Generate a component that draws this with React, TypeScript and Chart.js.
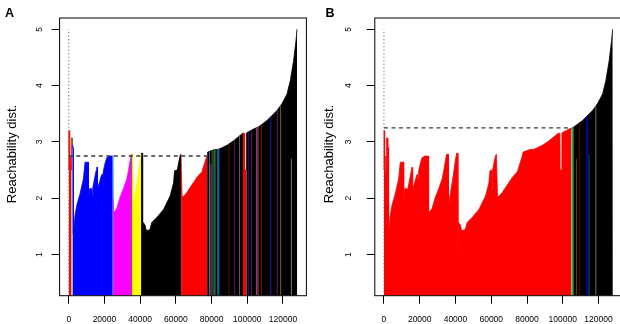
import React, { useEffect, useRef } from 'react';
import { Chart, registerables } from 'chart.js';

Chart.register(...registerables);

// Reachability profile (shared ordering for both panels)
const profileX = [
  0, 150, 400, 700, 1000, 1300, 1500, 2000, 2150, 2400, 2500, 2700, 3500, 4470, 6340, 8200, 9140,
  10950, 11050, 11580, 12890, 13270, 13460, 15310, 15700, 16000, 16100, 16400, 17200, 17950, 18510,
  18700, 18850, 19100, 19430, 20360, 21310, 23160, 24700, 24850, 25100, 25400, 26900, 28770, 30640,
  32510, 33440, 34380, 35000, 35900, 36100, 36600, 38500, 40300, 40600, 41200, 41400, 41700, 42790,
  43350, 44660, 45600, 46530, 49340, 53070, 56800, 58680, 59300, 60400, 60600, 60800, 61480, 62420,
  62900, 63100, 63500, 64500, 66160, 69890, 71760, 74600, 76450, 77400, 77800, 81130, 83930, 88610,
  92300, 96080, 97700, 98400, 98500, 99400, 99500, 103570, 106370, 111050, 113850, 116660, 119460,
  122260, 124110, 125970, 127300, 127870, 128000,
];
const profileY = [
  2.5, 3.2, 2.6, 2.45, 2.75, 2.5, 3.07, 3.07, 2.9, 2.9, 1.37, 1.36, 1.69, 1.87, 2.08, 2.34, 2.64,
  2.64, 1.86, 2.17, 2.17, 2.02, 2.18, 2.49, 2.55, 2.55, 2.0, 2.2, 2.28, 2.37, 2.42,
  2.42, 2.08, 2.35, 2.49, 2.62, 2.72, 2.75, 2.75, 1.6, 1.78, 1.75, 1.82, 2.02, 2.17,
  2.34, 2.49, 2.67, 2.78, 2.78, 1.85, 1.98, 2.35, 2.75, 2.8, 2.8, 0.92, 1.57, 1.52,
  1.43, 1.43, 1.46, 1.57, 1.66, 1.8, 2.04, 2.27, 2.49, 2.5, 2.15, 2.5, 2.62, 2.76,
  2.78, 2.78, 2.02, 2.04, 2.1, 2.28, 2.37, 2.47, 2.66, 2.75, 2.82, 2.86, 2.87, 2.94,
  3.02, 3.12, 3.16, 3.15, 2.5, 2.5, 3.16, 3.23, 3.27, 3.38, 3.47, 3.56, 3.68,
  3.85, 4.09, 4.45, 4.8, 5.0, 5.0,
];

const xTickValues = [0, 20000, 40000, 60000, 80000, 100000, 120000];
const yTickValues = [1, 2, 3, 4, 5];
const yTitle = 'Reachability dist.';
const X_MIN = -5120;
const X_MAX = 133120;
const Y_MIN = 0.27;
const Y_MAX = 5.2;

// Panel A clusters
const clusterStartA = [0, 1500, 2100, 24800, 35200, 40500, 62900, 77500, 97600, 99400];
const clusterEndA = [1500, 2100, 24800, 35200, 40500, 62900, 77500, 97600, 99400, 128000];
const clusterColorA = ['#FF0000', '#1E9E1E', '#0000FF', '#FF00FF', '#FFFF00', '#000000', '#FF0000', '#000000', '#FF0000', '#000000'];

// Panel A thin cluster lines
const markXA = [24650, 35250, 78860, 79640, 80300, 81300, 81900, 83500, 84000, 89700, 92900, 95700, 100600, 102300, 105200, 106000, 107900, 113200, 116800, 118700, 124700];
const markTopA = [null, null, null, 2.6, null, null, null, null, null, null, null, null, null, null, null, null, null, null, null, null, 2.7];
const markColorA = ['#4FC8FF', '#202000', '#6A8CFF', '#D040D0', '#A08020', '#20C020', '#20D0D0', '#00B0FF', '#00B0FF', '#8B1010', '#802080', '#909090', '#40208B', '#8B208B', '#FF30FF', '#C0B000', '#D01010', '#2030FF', '#902090', '#A09800', '#B0B0B0'];

// Panel B clusters
const clusterStartB = [0, 104600, 104900, 105800];
const clusterEndB = [104600, 104900, 105800, 128000];
const clusterColorB = ['#FF0000', '#000000', '#00CC00', '#000000'];

const markXB = [107700, 109300, 113300, 113700, 114700, 118500];
const markTopB = [2.7, null, null, null, 2.77, null];
const markColorB = ['#707000', '#8B0000', '#0000FF', '#0000FF', '#1A8080', '#A0A0A0'];

const refLevelA = 2.75;
const refEndA = 77400;
const refLevelB = 3.25;
const refEndB = 103500;
const dottedTop = 5;

function profileAt(x: number): number {
  for (let i = 0; i < profileX.length - 1; i++) {
    if (x >= profileX[i] && x <= profileX[i + 1]) {
      const t = (x - profileX[i]) / (profileX[i + 1] - profileX[i] || 1);
      return profileY[i] + t * (profileY[i + 1] - profileY[i]);
    }
  }
  return profileY[profileY.length - 1];
}

function segmentPoints(s: number, e: number) {
  const pts = [{ x: s, y: profileAt(s) }];
  for (let i = 0; i < profileX.length; i++) {
    if (profileX[i] > s && profileX[i] < e) pts.push({ x: profileX[i], y: profileY[i] });
  }
  pts.push({ x: e, y: profileAt(e) });
  return pts;
}

const FONT = "'Liberation Sans', Arial, Helvetica, sans-serif";

type PanelCfg = {
  letter: string;
  left: number;
  width: number;
  yAxisWidth: number;
  padRight: number;
  tickLabelOffset: number;
  titleX: number;
  letterX: number;
  starts: number[];
  ends: number[];
  colors: string[];
  markX: number[];
  markTop: (number | null)[];
  markColor: string[];
  refLevel: number;
  refEnd: number;
};

const panels: PanelCfg[] = [
  {
    letter: 'A', left: 0, width: 310, yAxisWidth: 59.6, padRight: 3.6, tickLabelOffset: 20,
    titleX: 12, letterX: 9.5,
    starts: clusterStartA, ends: clusterEndA, colors: clusterColorA,
    markX: markXA, markTop: markTopA, markColor: markColorA,
    refLevel: refLevelA, refEnd: refEndA,
  },
  {
    letter: 'B', left: 310, width: 314, yAxisWidth: 64.8, padRight: 2, tickLabelOffset: 26,
    titleX: 19.2, letterX: 20,
    starts: clusterStartB, ends: clusterEndB, colors: clusterColorB,
    markX: markXB, markTop: markTopB, markColor: markColorB,
    refLevel: refLevelB, refEnd: refEndB,
  },
];

function Panel({ cfg }: { cfg: PanelCfg }) {
  const ref = useRef<HTMLCanvasElement>(null);
  useEffect(() => {
    const datasets: any[] = [];
    cfg.starts.forEach((s, i) => {
      datasets.push({
        data: segmentPoints(s, cfg.ends[i]),
        borderColor: cfg.colors[i],
        backgroundColor: cfg.colors[i],
        borderWidth: 0.8,
        fill: { value: Y_MIN },
        pointRadius: 0,
        tension: 0,
        order: 3,
      });
    });
    cfg.markX.forEach((x, i) => {
      const top = cfg.markTop[i] == null ? profileAt(x) : (cfg.markTop[i] as number);
      datasets.push({
        data: [{ x, y: Y_MIN }, { x, y: top }],
        borderColor: cfg.markColor[i],
        borderWidth: 0.7,
        fill: false,
        pointRadius: 0,
        order: 2,
      });
    });
    datasets.push({
      data: [{ x: 0, y: cfg.refLevel }, { x: cfg.refEnd, y: cfg.refLevel }],
      borderColor: '#3a3a3a',
      borderWidth: 1.4,
      borderDash: [4, 3.5],
      fill: false,
      pointRadius: 0,
      order: 1,
    });
    datasets.push({
      data: [{ x: 0, y: Y_MIN }, { x: 0, y: dottedTop }],
      borderColor: '#555555',
      borderWidth: 1,
      borderDash: [1, 2.5],
      fill: false,
      pointRadius: 0,
      order: 1,
    });

    const decor = {
      id: 'decor' + cfg.letter,
      afterDatasetsDraw(chart: any) {
        const { ctx, chartArea } = chart;
        ctx.save();
        ctx.strokeStyle = '#000';
        ctx.lineWidth = 1;
        ctx.strokeRect(chartArea.left, chartArea.top, chartArea.right - chartArea.left, chartArea.bottom - chartArea.top);
        ctx.restore();
      },
      afterDraw(chart: any) {
        const { ctx, chartArea } = chart;
        const yScale = chart.scales.y;
        ctx.save();
        ctx.fillStyle = '#000';
        ctx.font = `8.5px ${FONT}`;
        ctx.textAlign = 'center';
        ctx.textBaseline = 'middle';
        yTickValues.forEach((v) => {
          const py = yScale.getPixelForValue(v);
          ctx.save();
          ctx.translate(chartArea.left - cfg.tickLabelOffset, py);
          ctx.rotate(-Math.PI / 2);
          ctx.fillText(String(v), 0, 0);
          ctx.restore();
        });
        ctx.font = `13px ${FONT}`;
        ctx.save();
        ctx.translate(cfg.titleX, 154);
        ctx.rotate(-Math.PI / 2);
        ctx.fillText(yTitle, 0, 0);
        ctx.restore();
        ctx.font = `bold 12.5px ${FONT}`;
        ctx.fillText(cfg.letter, cfg.letterX, 13.5);
        ctx.restore();
      },
    };

    const chart = new Chart(ref.current as HTMLCanvasElement, {
      type: 'line',
      data: { datasets },
      options: {
        animation: false,
        responsive: false,
        devicePixelRatio: 1,
        events: [],
        layout: { padding: { top: 18, left: 0, right: cfg.padRight, bottom: 0 } },
        plugins: { legend: { display: false }, tooltip: { enabled: false } },
        scales: {
          x: {
            type: 'linear',
            min: X_MIN,
            max: X_MAX,
            afterBuildTicks: (s: any) => {
              s.ticks = xTickValues.map((v) => ({ value: v }));
            },
            afterFit: (s: any) => {
              s.height = 28.3;
            },
            grid: { drawOnChartArea: false, drawTicks: true, tickLength: 8, color: '#000', lineWidth: 1 },
            border: { display: false },
            ticks: {
              callback: (v: any) => String(v),
              font: { family: FONT, size: 8.5 },
              color: '#000',
              padding: 11,
              maxRotation: 0,
              minRotation: 0,
              autoSkip: false,
            },
          },
          y: {
            type: 'linear',
            min: Y_MIN,
            max: Y_MAX,
            afterBuildTicks: (s: any) => {
              s.ticks = yTickValues.map((v) => ({ value: v }));
            },
            afterFit: (s: any) => {
              s.width = cfg.yAxisWidth;
            },
            grid: { drawOnChartArea: false, drawTicks: true, tickLength: 8, color: '#000', lineWidth: 1 },
            border: { display: false },
            ticks: { color: 'rgba(0,0,0,0)', font: { family: FONT, size: 8.5 }, padding: 2 },
          },
        },
      },
      plugins: [decor],
    } as any);
    return () => chart.destroy();
  }, []);
  return (
    <canvas
      ref={ref}
      width={cfg.width}
      height={324}
      style={{ position: 'absolute', left: cfg.left, top: 0, width: cfg.width, height: 324 }}
    />
  );
}

export default function App() {
  return (
    <div
      style={{
        position: 'fixed',
        left: 0,
        top: 0,
        width: 620,
        height: 324,
        overflow: 'hidden',
        background: '#fff',
      }}
    >
      {panels.map((p) => (
        <Panel key={p.letter} cfg={p} />
      ))}
    </div>
  );
}
